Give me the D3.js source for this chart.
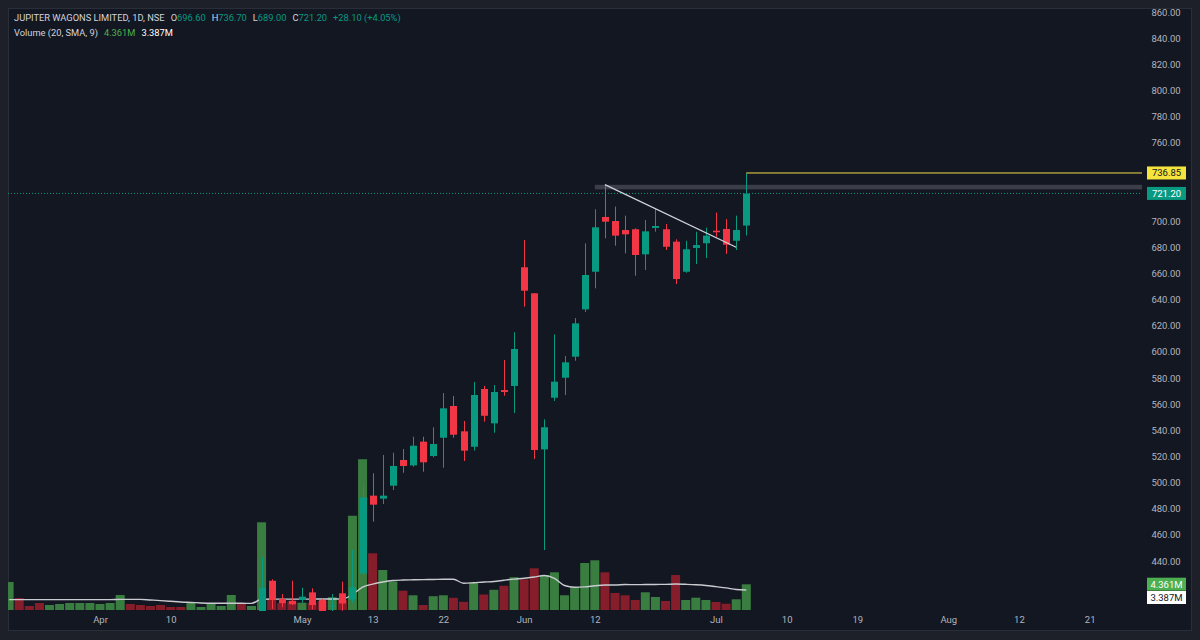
<!DOCTYPE html>
<html>
<head>
<meta charset="utf-8">
<script src="https://cdn.jsdelivr.net/npm/d3@7"></script>
<style>
  html, body { margin: 0; padding: 0; background: #1d2028; }
  svg { display: block; }
  text { font-family: Roboto, "Noto Sans", sans-serif; }
</style>
</head>
<body>
<div class="chart"></div>
<script>
const w = 1200;
const h = 640;

// time axis labels, placed on trading-day index
const tickIdx = [9, 16, 29, 36, 43, 51, 58, 70, 77, 84, 93, 100, 107];
const tickText = ["Apr", "10", "May", "13", "22", "Jun", "12", "Jul", "10", "19", "Aug", "12", "21"];

// candles start at bar 25, earlier ones are below the visible price range
const candleStart = 25;
const opens  = [400, 424.9, 410.9, 409.6, 410.2, 416.0, 410.2, 405.2, 415.3, 410.5, 430.4, 490.0, 487.7, 497.6, 517.3, 513.1, 531.3, 520.3, 534.3, 558.6, 539.2, 527.4, 571.6, 545.3, 570.8, 573.9, 664.7, 644.8, 525.4, 564.9, 580.2, 596.3, 632.5, 661.3, 703.2, 700.1, 693.2, 693.8, 674.6, 694.8, 693.8, 684.3, 661.3, 679.5, 683.1, 692.7, 694.0, 685.0, 696.6];
const highs  = [443.0, 426.0, 414.7, 424.9, 419.6, 419.1, 411.0, 414.7, 424.2, 448.4, 498.1, 507.1, 521.1, 522.8, 525.7, 535.1, 535.1, 542.3, 568.5, 566.2, 547.1, 576.9, 573.9, 574.6, 593.8, 615.0, 685.6, 645.0, 548.4, 613.4, 596.8, 625.9, 683.0, 709.1, 727.9, 711.1, 704.2, 694.5, 700.9, 709.3, 697.8, 686.1, 685.0, 691.9, 695.0, 706.5, 701.6, 704.2, 736.7];
const lows   = [397, 403.3, 404.6, 406.3, 408.1, 403.0, 398.0, 401.0, 402.0, 408.0, 429.3, 470.1, 483.6, 494.3, 507.5, 512.1, 508.3, 519.3, 511.4, 534.3, 516.5, 524.5, 546.6, 538.1, 566.4, 553.2, 634.5, 518.0, 448.4, 562.4, 567.0, 593.2, 630.5, 648.6, 686.9, 681.2, 675.4, 658.3, 662.6, 691.9, 677.9, 651.9, 660.5, 667.2, 671.8, 688.1, 674.9, 677.9, 689.0];
const closes = [419.6, 410.2, 407.6, 406.9, 412.7, 406.3, 401.0, 405.9, 407.5, 420.1, 488.7, 483.1, 490.0, 512.7, 512.7, 528.2, 515.5, 529.5, 556.8, 536.6, 524.4, 567.0, 551.1, 569.3, 569.3, 602.2, 646.8, 524.9, 542.3, 577.2, 592.0, 621.8, 658.8, 695.3, 699.6, 688.9, 689.9, 674.1, 692.2, 696.3, 680.4, 655.7, 678.5, 681.7, 688.9, 691.5, 682.0, 693.2, 721.2];

// volume in millions, for every bar
const volume = [4.75, 2.04, 0.68, 1.19, 0.85, 1.02, 1.19, 1.19, 1.19, 1.02, 1.19, 2.55, 1.02, 0.85, 0.68, 0.85, 0.51, 0.51, 1.36, 0.51, 1.02, 0.68, 2.55, 1.19, 0.68,
  14.89, 2.04, 1.14, 1.48, 1.24, 1.19, 1.53, 2.16, 1.70, 16.0, 25.6, 9.63, 6.79, 4.84, 3.28, 2.50, 0.85, 2.34, 2.50, 2.07, 1.39, 4.63, 2.63, 3.43, 4.11,
  5.57, 5.21, 7.08, 5.94, 6.40, 2.50, 3.90, 7.98, 8.44, 6.40, 2.89, 2.50, 1.70, 3.01, 2.21, 1.53, 5.94, 1.70, 2.09, 1.70, 1.36, 1.07, 1.82, 4.361];
const volUp = "GRRRGGGGGGGGRRRRRRGGGGGRGGRRRGRRGRGGRGGRGRGGRRGRGRGRRGGGGGGRRRRGGRRGGGRRGG";
const volSma = [1.76, 1.76, 1.76, 1.76, 1.76, 1.76, 1.76, 1.76, 1.76, 1.76, 1.76, 1.80, 1.80, 1.80, 1.70, 1.60, 1.48, 1.36, 1.28, 1.20, 1.15, 1.14, 1.14, 1.14, 1.12,
  1.82, 1.84, 1.84, 1.85, 1.85, 1.85, 1.87, 1.87, 1.88, 2.65, 3.89, 4.40, 4.75, 5.00, 5.09, 5.13, 5.16, 5.18, 5.21, 5.21, 4.55, 4.63, 4.75, 4.84, 5.05,
  5.24, 5.38, 5.60, 5.86, 5.38, 4.16, 3.87, 3.93, 4.11, 4.25, 4.25, 4.33, 4.30, 4.33, 4.34, 4.35, 4.41, 4.36, 4.29, 4.17, 3.96, 3.75, 3.49, 3.387];

const priceTicks = d3.range(440, 861, 20);
const lastClose = 721.20;
const lineLevel = 736.85;
const trendLine = [[59, 727.9], [72, 680.0]];
const band = [58, 727.8, 724.3];

const upColor = "#089981";
const downColor = "#f23645";

const plotLeft = 8, plotRight = 1142, plotTop = 8, plotBottom = 611;

const svg = d3.select(".chart")
  .append("svg")
  .attr("width", w)
  .attr("height", h);

svg.append("rect")
  .attr("x", 8.5).attr("y", 8.5)
  .attr("width", 1183).attr("height", 622)
  .attr("fill", "#131722")
  .attr("stroke", "#2a2e39");

const x = d3.scaleLinear().domain([9, 70]).range([100, 716]);
const y = d3.scaleLinear().domain([440, 860]).range([561, 12]);
const yv = d3.scaleLinear().domain([0, 10]).range([610, 551.1]);

svg.append("clipPath").attr("id", "plot")
  .append("rect")
  .attr("x", plotLeft).attr("y", plotTop)
  .attr("width", plotRight - plotLeft).attr("height", plotBottom - plotTop);

const plot = svg.append("g").attr("clip-path", "url(#plot)");

// volume columns
plot.append("g")
  .selectAll("rect")
  .data(volume)
  .enter().append("rect")
  .attr("x", (d, i) => x(i) - 4.5)
  .attr("y", d => yv(d))
  .attr("width", 9)
  .attr("height", d => yv(0) - yv(d))
  .attr("fill", (d, i) => volUp[i] == "G" ? "#3a7d41" : "#861d2a");

// volume moving average
plot.append("path")
  .datum(volSma)
  .attr("fill", "none")
  .attr("stroke", "#c9cbd1")
  .attr("stroke-width", 1.4)
  .attr("d", d3.line().x((d, i) => x(i)).y(d => yv(d)).curve(d3.curveMonotoneX));

// grey band drawing
plot.append("rect")
  .attr("x", x(band[0]))
  .attr("y", y(band[1]))
  .attr("width", plotRight - x(band[0]))
  .attr("height", y(band[2]) - y(band[1]))
  .attr("fill", "#3b3e48");

// last price dotted line
plot.append("line")
  .attr("x1", plotLeft).attr("x2", plotRight)
  .attr("y1", y(lastClose)).attr("y2", y(lastClose))
  .attr("stroke", upColor)
  .attr("stroke-dasharray", "1,2");

// candles
const candles = plot.append("g")
  .selectAll("g")
  .data(opens.map((o, k) => ({i: k + candleStart, o: o, h: highs[k], l: lows[k], c: closes[k]})))
  .enter().append("g")
  .attr("fill", d => d.c >= d.o ? upColor : downColor)
  .attr("stroke", d => d.c >= d.o ? upColor : downColor);

candles.append("line")
  .attr("x1", d => Math.round(x(d.i)) + 0.5)
  .attr("x2", d => Math.round(x(d.i)) + 0.5)
  .attr("y1", d => y(d.h))
  .attr("y2", d => y(d.l));

candles.append("rect")
  .attr("stroke", "none")
  .attr("x", d => Math.round(x(d.i)) - 3)
  .attr("y", d => y(Math.max(d.o, d.c)))
  .attr("width", 7)
  .attr("height", d => Math.max(1, Math.abs(y(d.o) - y(d.c))));

// trend line
plot.append("line")
  .attr("x1", x(trendLine[0][0])).attr("y1", y(trendLine[0][1]))
  .attr("x2", x(trendLine[1][0])).attr("y2", y(trendLine[1][1]))
  .attr("stroke", "#d1d4dc")
  .attr("stroke-width", 1.3);

// horizontal level from the last high
plot.append("line")
  .attr("x1", x(opens.length - 1 + candleStart)).attr("x2", plotRight)
  .attr("y1", y(lineLevel)).attr("y2", y(lineLevel))
  .attr("stroke", "#f0df4a")
  .attr("stroke-width", 1);

// price axis
const yAxis = svg.append("g")
  .attr("transform", "translate(1166,0)")
  .call(d3.axisRight(y)
    .tickValues(priceTicks.filter(t => Math.abs(y(t) - y(lastClose)) > 12 && Math.abs(y(t) - y(lineLevel)) > 12))
    .tickFormat(d3.format(".2f"))
    .tickSize(0)
    .tickPadding(0));
yAxis.select(".domain").remove();
yAxis.selectAll("text")
  .attr("text-anchor", "middle")
  .attr("fill", "#b2b5be")
  .style("font-size", "9.5px");

// time axis
const xAxis = svg.append("g")
  .attr("transform", "translate(0,616)")
  .call(d3.axisBottom(x)
    .tickValues(tickIdx)
    .tickFormat((d, i) => tickText[i])
    .tickSize(0)
    .tickPadding(0));
xAxis.select(".domain").remove();
xAxis.selectAll("text")
  .attr("fill", "#b2b5be")
  .style("font-size", "9.5px");

// axis labels with boxes
const boxes = [
  {text: lineLevel.toFixed(2), cy: y(lineLevel), bg: "#f5e43c", fg: "#131722"},
  {text: lastClose.toFixed(2), cy: y(lastClose), bg: upColor, fg: "#ffffff"},
  {text: volume[volume.length - 1].toFixed(3) + "M", cy: 584.2, bg: "#4caf50", fg: "#ffffff"},
  {text: volSma[volSma.length - 1].toFixed(3) + "M", cy: 597.5, bg: "#ffffff", fg: "#131722"}
];
const lbl = svg.append("g").selectAll("g").data(boxes).enter().append("g");
lbl.append("rect")
  .attr("x", 1147)
  .attr("y", d => d.cy - 6.5)
  .attr("width", 39)
  .attr("height", 13)
  .attr("fill", d => d.bg);
lbl.append("text")
  .attr("x", 1166.5)
  .attr("y", d => d.cy)
  .attr("dy", "0.35em")
  .attr("text-anchor", "middle")
  .attr("fill", d => d.fg)
  .style("font-size", "9.5px")
  .text(d => d.text);

// legend
const legend = svg.append("text")
  .attr("x", 14)
  .attr("y", 21)
  .attr("fill", "#d1d4dc")
  .style("font-size", "9.3px");
legend.append("tspan").text("JUPITER WAGONS LIMITED, 1D, NSE");
const ohlc = [["O", opens], ["H", highs], ["L", lows], ["C", closes]];
ohlc.forEach((p, k) => {
  legend.append("tspan").attr("dx", 6).text(p[0]);
  legend.append("tspan").attr("fill", upColor).text(p[1][p[1].length - 1].toFixed(2));
});
legend.append("tspan").attr("dx", 6).attr("fill", upColor).text("+28.10 (+4.05%)");

const legend2 = svg.append("text")
  .attr("x", 14)
  .attr("y", 36)
  .attr("fill", "#d1d4dc")
  .style("font-size", "9.3px");
legend2.append("tspan").text("Volume (20, SMA, 9)");
legend2.append("tspan").attr("dx", 6).attr("fill", "#4caf50").text("4.361M");
legend2.append("tspan").attr("dx", 6).attr("fill", "#ffffff").text("3.387M");
</script>
</body>
</html>
